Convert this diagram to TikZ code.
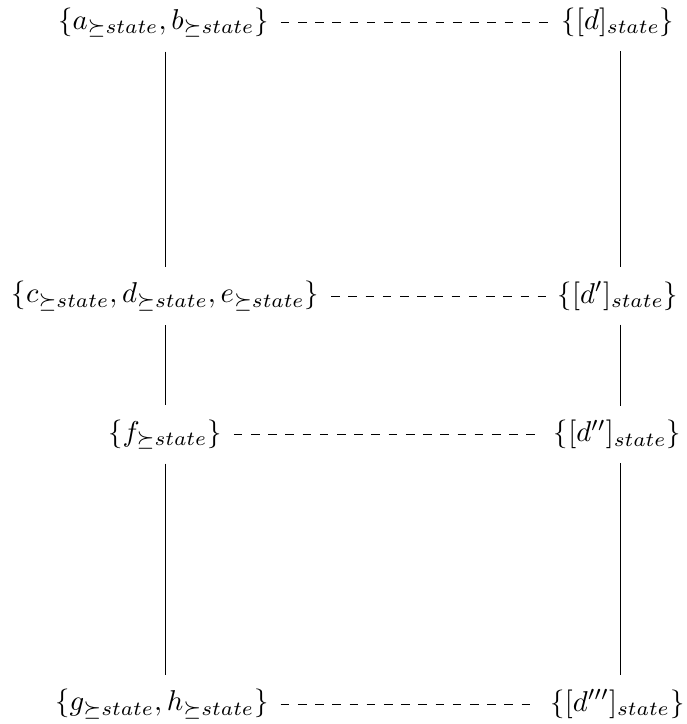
\documentclass[tikz,border=0pt]{standalone}
\usepackage{amssymb}
\begin{document}
\begin{tikzpicture}[x=0.3487pt,y=-0.3487pt,
  lbl/.style={inner xsep=4pt,inner ysep=4.8pt},
  vline/.style={draw,line width=0.35pt},
  dline/.style={draw,dashed,line width=0.35pt}]
\useasboundingbox (0,0) rectangle (686,724);
\node[lbl] (a) at (163.5,22.5) {$\{a_{\succeq state}, b_{\succeq state}\}$};
\node[lbl] (ad) at (618,22.5) {$\{[d]_{state}\}$};
\node[lbl] (c) at (165.5,296) {$\{c_{\succeq state}, d_{\succeq state}, e_{\succeq state}\}$};
\node[lbl] (cd) at (618,296) {$\{[d']_{state}\}$};
\node[lbl] (f) at (165,434.5) {$\{f_{\succeq state}\}$};
\node[lbl] (fd) at (617.5,434.5) {$\{[d'']_{state}\}$};
\node[lbl] (g) at (162,704) {$\{g_{\succeq state}, h_{\succeq state}\}$};
\node[lbl] (gd) at (617.5,704) {$\{[d''']_{state}\}$};
\coordinate (L) at (165,0);
\coordinate (R) at (620,0);
\path[vline] (a.south -| L) -- (c.north -| L);
\path[vline] (c.south -| L) -- (f.north -| L);
\path[vline] (f.south -| L) -- (g.north -| L);
\path[vline] (ad.south -| R) -- (cd.north -| R);
\path[vline] (cd.south -| R) -- (fd.north -| R);
\path[vline] (fd.south -| R) -- (gd.north -| R);
\path[dline] (a) -- (ad);
\path[dline] (c) -- (cd);
\path[dline] (f) -- (fd);
\path[dline] (g) -- (gd);
\end{tikzpicture}
\end{document}
